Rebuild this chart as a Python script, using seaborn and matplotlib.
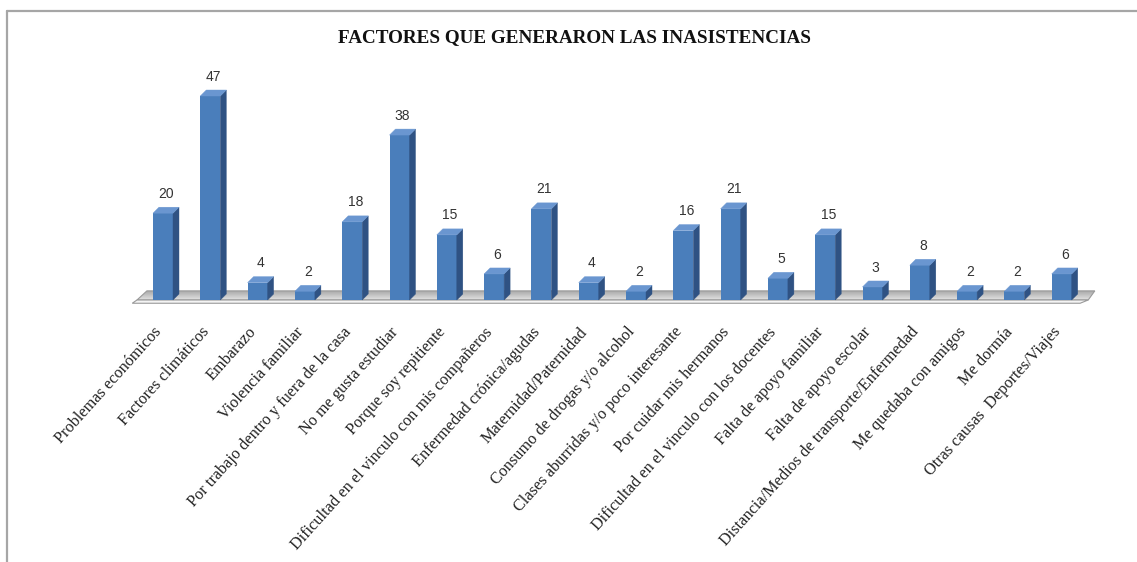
import numpy as np
import pandas as pd
import matplotlib
matplotlib.use('Agg')
import matplotlib.pyplot as plt
import matplotlib.transforms as mtransforms
import seaborn as sns
from matplotlib.patches import Polygon
from matplotlib.lines import Line2D

# datos
categorias = [
    "Problemas económicos", "Factores climáticos", "Embarazo", "Violencia familiar",
    "Por trabajo dentro y fuera de la casa", "No me gusta estudiar", "Porque soy repitiente",
    "Dificultad en el vinculo con mis compañeros", "Enfermedad crónica/agudas",
    "Maternidad/Paternidad", "Consumo de drogas y/o alcohol",
    "Clases aburridas y/o poco interesante", "Por cuidar mis hermanos",
    "Dificultad en el vinculo con los docentes", "Falta de apoyo familiar",
    "Falta de apoyo escolar", "Distancia/Medios de transporte/Enfermedad",
    "Me quedaba con amigos", "Me dormía", "Otras causas  Deportes/Viajes",
]
valores = [20, 47, 4, 2, 18, 38, 15, 6, 21, 4, 2, 16, 21, 5, 15, 3, 8, 2, 2, 6]
titulo = "FACTORES QUE GENERARON LAS INASISTENCIAS"

df = pd.DataFrame({'causa': categorias, 'n': valores})

sns.set_theme(style='white')
W, H = 1137, 562
fig = plt.figure(figsize=(W / 100, H / 100), dpi=100)

# eje ubicado a mano: x de -1 a 20, y de -2 a 55
px_x, px_y = 47.3, 4.34
x0, x1 = -1.0, 20.0
y0, y1 = -2.0, 55.0
left_px = 163 - (0 - x0) * px_x
bottom_px = 300 + (0 - y0) * px_y
ax = fig.add_axes([left_px / W, 1 - bottom_px / H,
                   (x1 - x0) * px_x / W, (y1 - y0) * px_y / H])

ancho = 20 / px_x      # frente de la barra
dx = 6 / px_x          # profundidad
dy = 6 / px_y

frente = '#4A7EBB'
lado = '#2F5283'
tapa = '#6A96D0'

sns.barplot(data=df, x='causa', y='n', color=frente, width=ancho,
            saturation=1, edgecolor=frente, linewidth=0, ax=ax, zorder=3)

# piso gris
piso = [(-0.34, 2.1), (19.70, 2.1), (19.56, 0.0), (-0.55, 0.0)]
grad = np.linspace(0, 1, 64).reshape(-1, 1)
img = ax.imshow(grad, cmap=matplotlib.colors.LinearSegmentedColormap.from_list(
    'piso', ['#e2e2e2', '#a4a4a4']), extent=(-0.7, 19.8, 0.0, 2.1),
    origin='lower', aspect='auto', zorder=1)
poly = Polygon(piso, closed=True, facecolor='none', edgecolor='#9a9a9a', lw=0.8, zorder=2)
ax.add_patch(poly)
img.set_clip_path(poly)
losa = [(-0.55, 0.0), (19.56, 0.0), (19.39, -0.75), (-0.65, -0.75)]
ax.add_patch(Polygon(losa, closed=True, facecolor='#f4f4f4', edgecolor='#9a9a9a', lw=0.8, zorder=2))

# caras laterales y tapas 3D
for i, v in enumerate(valores):
    xr = i + ancho / 2
    xl = i - ancho / 2
    ax.add_patch(Polygon([(xr, 0), (xr + dx, dy), (xr + dx, v + dy), (xr, v)],
                         closed=True, facecolor=lado, edgecolor=lado, lw=0.3, zorder=3))
    ax.add_patch(Polygon([(xl, v), (xr, v), (xr + dx, v + dy), (xl + dx, v + dy)],
                         closed=True, facecolor=tapa, edgecolor=tapa, lw=0.3, zorder=3))
    ax.annotate(str(v), (i + dx / 2, v), xytext=(0, 14), textcoords='offset points',
                ha='center', va='center', fontsize=10, color='#333333',
                family='Liberation Sans')

ax.set_xlim(x0, x1)
ax.set_ylim(y0, y1)
for s in ax.spines.values():
    s.set_visible(False)
ax.set_yticks([])
ax.set_xlabel('')
ax.set_ylabel('')
ax.tick_params(axis='x', length=0, pad=15)
ax.set_xticks(range(len(categorias)))
ax.set_xticklabels(categorias, rotation=48, ha='right', va='center',
                   rotation_mode='anchor', fontsize=11.7, color='#222222',
                   family='Liberation Serif')
# correr las etiquetas un poco a la izquierda
desplazar = mtransforms.ScaledTranslation(-4 / 100, 0, fig.dpi_scale_trans)
for lab in ax.get_xticklabels():
    lab.set_transform(lab.get_transform() + desplazar)

fig.text(574 / W, 1 - 38 / H, titulo, ha='center', va='center', fontsize=13.75,
         fontweight='bold', family='Liberation Serif', color='#111111')

# marco
fig.add_artist(Line2D([7 / W, 7 / W], [0, 1 - 11 / H], color='#a6a6a6', lw=1.6))
fig.add_artist(Line2D([7 / W, 1], [1 - 11 / H, 1 - 11 / H], color='#a6a6a6', lw=1.6))

fig.savefig('out.png', dpi=100)
